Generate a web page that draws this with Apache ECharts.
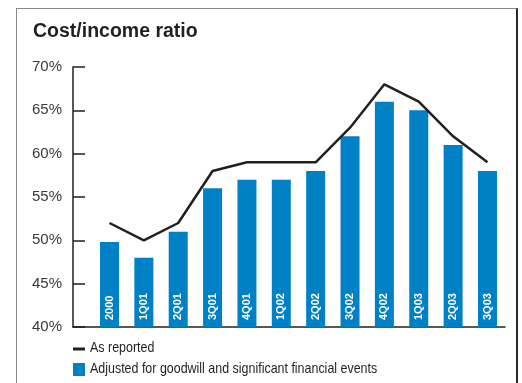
<!DOCTYPE html>
<html>
<head>
<meta charset="utf-8">
<script src="https://cdn.jsdelivr.net/npm/echarts@6/dist/echarts.min.js"></script>
<style>
  html, body { margin: 0; padding: 0; background: #fff; }
  #wrap { position: relative; width: 522px; height: 383px; overflow: hidden; }
  #chart { position: absolute; left: 0; top: 0; width: 522px; height: 383px; }
  #frame {
    position: absolute; left: 16px; top: 8px; width: 499px; height: 420px;
    border-top: 1px solid #8a8a8a; border-left: 1px solid #8a8a8a;
    border-right: 2px solid #2a2a2a; pointer-events: none;
  }
</style>
</head>
<body>
<div id="wrap">
  <div id="chart"></div>
  <div id="frame"></div>
</div>
<script>
// Quarterly cost/income ratio, in percent
const categories = ['2000', '1Q01', '2Q01', '3Q01', '4Q01', '1Q02', '2Q02', '3Q02', '4Q02', '1Q03', '2Q03', '3Q03'];
const asReported = [52, 50, 52, 58, 59, 59, 59, 63, 68, 66, 62, 59];
const adjusted = [49.8, 48, 51, 56, 57, 57, 58, 62, 66, 65, 61, 58];
const yTicks = [40, 45, 50, 55, 60, 65, 70];

const NAME_LINE = 'As reported';
const NAME_BAR = 'Adjusted for goodwill and significant financial events';

const INK = '#231f20';
const BLUE = '#0080c5';
const regular = '"Liberation Sans", Arial, sans-serif';

const chart = echarts.init(document.getElementById('chart'), null, { renderer: 'canvas' });

// Legend text is set in a condensed cut, so it is drawn horizontally squeezed
const legendText = (text, y) => ({
  type: 'text',
  x: 90,
  y: y,
  scaleX: 0.83,
  style: {
    text: text,
    fontFamily: regular,
    fontSize: 15,
    fill: INK,
    align: 'left',
    verticalAlign: 'middle'
  }
});

chart.setOption({
  animation: false,
  backgroundColor: 'transparent',
  title: {
    text: 'Cost/income ratio',
    left: 33,
    top: 22,
    padding: 0,
    textStyle: { fontFamily: regular, fontWeight: 'bold', fontSize: 19.5, color: INK }
  },
  graphic: [
    { type: 'rect', shape: { x: 73, y: 347.5, width: 12, height: 3 }, style: { fill: INK } },
    legendText(NAME_LINE, 348),
    { type: 'rect', shape: { x: 73, y: 363, width: 12, height: 13 }, style: { fill: BLUE } },
    legendText(NAME_BAR, 369)
  ],
  grid: { left: 73, right: 17, top: 67, bottom: 56, containLabel: false },
  xAxis: {
    type: 'value',
    min: -1.062,
    max: 11.51,
    axisLine: { show: true, onZero: false, lineStyle: { color: INK, width: 1.5 } },
    axisTick: { show: false },
    axisLabel: { show: false },
    splitLine: { show: false }
  },
  yAxis: {
    type: 'value',
    min: yTicks[0],
    max: yTicks[yTicks.length - 1],
    interval: yTicks[1] - yTicks[0],
    axisLine: { show: true, onZero: false, lineStyle: { color: INK, width: 1.5 } },
    axisTick: { show: true, inside: true, length: 12, lineStyle: { color: INK, width: 1.5 } },
    axisLabel: {
      margin: 11,
      formatter: '{value}%',
      fontFamily: regular, fontSize: 15, color: '#3a3a3a'
    },
    splitLine: { show: false }
  },
  series: [
    {
      name: NAME_BAR,
      type: 'bar',
      barWidth: 19,
      itemStyle: { color: BLUE },
      data: adjusted.map((v, i) => [i, v]),
      label: {
        show: true,
        position: 'insideBottom',
        rotate: 90,
        align: 'left',
        verticalAlign: 'middle',
        distance: 7,
        formatter: p => categories[p.dataIndex],
        fontFamily: regular, fontWeight: 'bold', fontSize: 11, color: '#ffffff'
      },
      z: 2
    },
    {
      name: NAME_LINE,
      type: 'line',
      symbol: 'none',
      itemStyle: { color: INK },
      lineStyle: { color: INK, width: 2.5 },
      data: asReported.map((v, i) => [i, v]),
      z: 3
    }
  ]
});
</script>
</body>
</html>
